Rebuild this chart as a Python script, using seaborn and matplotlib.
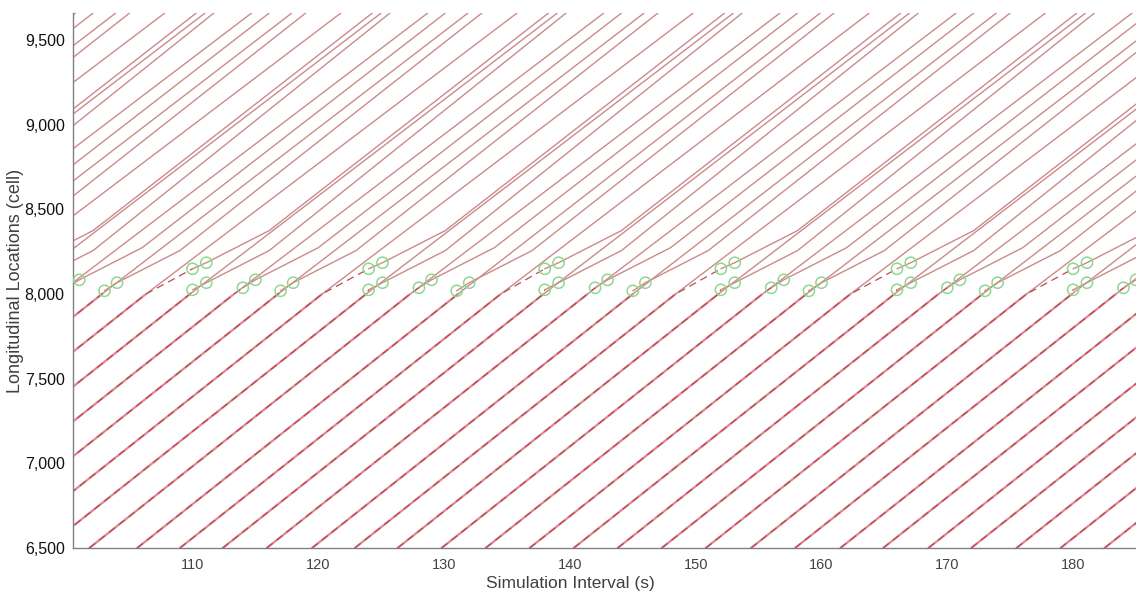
import matplotlib
matplotlib.use("Agg")
import matplotlib.pyplot as plt
import pandas as pd
import seaborn as sns
from matplotlib.ticker import FuncFormatter

# Lower two-lane section: time each vehicle pair crosses 6,500 and 8,000 cells
PAIR_T6500 = [42.3, 45.8, 49.3, 52.8,
              56.3, 59.8, 63.3, 66.8,
              70.3, 73.8, 77.3, 80.8,
              84.3, 87.8, 91.3, 94.8,
              98.3, 101.8, 105.6, 109.0,
              112.4, 115.9, 119.5, 122.9,
              126.3, 129.8, 133.3, 136.8,
              140.3, 143.8, 147.3, 150.8,
              154.4, 157.9, 161.5, 164.9,
              168.5, 171.9, 175.5, 179.0,
              182.5]
PAIR_T8000 = [67.8, 71.3, 74.8, 78.3,
              81.8, 85.3, 88.8, 92.3,
              95.8, 99.3, 102.8, 106.3,
              109.8, 113.3, 116.8, 120.3,
              123.8, 127.3, 131.1, 134.5,
              137.9, 141.4, 145.0, 148.4,
              151.8, 155.3, 158.8, 162.3,
              165.8, 169.3, 172.8, 176.3,
              179.9, 183.4, 187.0, 190.4,
              194.0, 197.4, 201.0, 204.5,
              208.0]
# time the through vehicle leaves the top of the window
SOLID_TOP = [97.0, 100.7, 103.9, 107.8,
             111.0, 114.7, 117.9, 121.8,
             125.0, 128.7, 131.9, 135.8,
             139.0, 142.7, 145.9, 149.8,
             153.0, 156.7, 159.9, 163.8,
             167.0, 170.7, 173.9, 177.8,
             181.0, 184.7, 187.9, 191.8,
             195.0, 198.7, 201.9, 205.8,
             209.0, 212.7, 215.9, 219.8,
             223.0, 226.7, 229.9, 233.8,
             237.0]

# lane changes of the merging vehicles (start / end circle)
C_T1 = [68.0, 72.0, 75.0, 82.0,
        82.0, 86.0, 89.0, 96.0,
        96.0, 100.0, 103.0, 110.0,
        110.0, 114.0, 117.0, 124.0,
        124.0, 128.0, 131.0, 138.0,
        138.0, 142.0, 145.0, 152.0,
        152.0, 156.0, 159.0, 166.0,
        166.0, 170.0, 173.0, 180.0,
        180.0, 184.0, 187.0, 194.0,
        194.0, 198.0, 201.0, 208.0,
        208.0]
C_Y1 = [8025, 8037, 8019, 8149] * 10 + [8025]
C_T2 = [69.1, 73.0, 76.0, 83.1,
        83.1, 87.0, 90.0, 97.1,
        97.1, 101.0, 104.0, 111.1,
        111.1, 115.0, 118.0, 125.1,
        125.1, 129.0, 132.0, 139.1,
        139.1, 143.0, 146.0, 153.1,
        153.1, 157.0, 160.0, 167.1,
        167.1, 171.0, 174.0, 181.1,
        181.1, 185.0, 188.0, 195.1,
        195.1, 199.0, 202.0, 209.1,
        209.1]
C_Y2 = [8067, 8084, 8067, 8185] * 10 + [8067]
# slow stretch after merging, then free flow to the top
BEND_T = [74.1, 78.0, 81.0, 88.1,
          88.1, 92.0, 95.0, 102.1,
          102.1, 106.0, 109.0, 116.1,
          116.1, 120.0, 123.0, 130.1,
          130.1, 134.0, 137.0, 144.1,
          144.1, 148.0, 151.0, 158.1,
          158.1, 162.0, 165.0, 172.1,
          172.1, 176.0, 179.0, 186.1,
          186.1, 190.0, 193.0, 200.1,
          200.1, 204.0, 207.0, 214.1,
          214.1]
BEND_Y = [8257, 8274, 8257, 8375] * 10 + [8257]
MERGE_TOP = [97.7, 102.1, 105.0, 110.3,
             111.7, 116.1, 119.0, 124.3,
             125.7, 130.1, 133.0, 138.3,
             139.7, 144.1, 147.0, 152.3,
             153.7, 158.1, 161.0, 166.3,
             167.7, 172.1, 175.0, 180.3,
             181.7, 186.1, 189.0, 194.3,
             195.7, 200.1, 203.0, 208.3,
             209.7, 214.1, 217.0, 222.3,
             223.7, 228.1, 231.0, 236.3,
             237.7]

Y_BOTTOM = 6500
Y_MERGE = 8000
Y_TOP = 9660

# Build trajectory table
rows = []
for i, tb in enumerate(PAIR_T6500):
    t8 = PAIR_T8000[i]
    rows += [("lower", f"s{i}", tb, Y_BOTTOM), ("lower", f"s{i}", t8, Y_MERGE)]
    rows += [("upper", f"s{i}", t8, Y_MERGE), ("upper", f"s{i}", SOLID_TOP[i], Y_TOP)]
    rows += [("dashed", f"d{i}", tb, Y_BOTTOM), ("dashed", f"d{i}", t8, Y_MERGE),
             ("dashed", f"d{i}", C_T1[i], C_Y1[i])]
    for t, y in [(C_T1[i], C_Y1[i]), (C_T2[i], C_Y2[i]),
                 (BEND_T[i], BEND_Y[i]), (MERGE_TOP[i], Y_TOP)]:
        rows.append(("upper", f"m{i}", t, y))
df = pd.DataFrame(rows, columns=["kind", "vid", "t", "y"])
circles = pd.DataFrame({"t": C_T1 + C_T2, "y": C_Y1 + C_Y2})

sns.set_theme(style="white")
plt.rcParams["font.family"] = ["Liberation Sans", "DejaVu Sans"]

fig = plt.figure(figsize=(11.36, 5.95), dpi=100)
ax = fig.add_axes([73 / 1136, 1 - 548 / 595, 1 - 73 / 1136, (548 - 13) / 595])

sns.lineplot(data=df[df.kind == "upper"], x="t", y="y", units="vid", estimator=None,
             sort=False, color="#cc8a8a", lw=1.0, ax=ax)
sns.lineplot(data=df[df.kind == "lower"], x="t", y="y", units="vid", estimator=None,
             sort=False, color="#dc8a90", lw=1.6, ax=ax)
sns.lineplot(data=df[df.kind == "dashed"], x="t", y="y", units="vid", estimator=None,
             sort=False, color="#b84a56", lw=0.9, dashes=False, linestyle=(0, (6, 4)), ax=ax)
sns.scatterplot(data=circles, x="t", y="y", marker="o", s=65, facecolors="none",
                edgecolors="#8ed88e", linewidth=1.1, ax=ax, zorder=5)

ax.set_xlim(100.5, 185)
ax.set_ylim(Y_BOTTOM, Y_TOP)
ax.set_xticks([110, 120, 130, 140, 150, 160, 170, 180])
ax.set_yticks([6500, 7000, 7500, 8000, 8500, 9000, 9500])
ax.yaxis.set_major_formatter(FuncFormatter(lambda v, p: f"{v:,.0f}"))

for side in ["top", "right"]:
    ax.spines[side].set_visible(False)
for side in ["left", "bottom"]:
    ax.spines[side].set_color("#808080")
    ax.spines[side].set_linewidth(1.0)
ax.tick_params(axis="both", direction="in", length=9, width=1.0, color="#808080")
ax.tick_params(axis="y", labelsize=11.5, labelcolor="#111111", pad=6)
ax.tick_params(axis="x", labelsize=10.5, labelcolor="#444444", pad=7)

ax.set_xlabel("Simulation Interval (s)", fontsize=12.5, color="#404040")
ax.set_ylabel("Longitudinal Locations (cell)", fontsize=13, color="#404040")
ax.xaxis.set_label_coords(0.4675, -0.052)
ax.yaxis.set_label_coords(-0.046, 0.5)

fig.savefig("out.png", dpi=100)
